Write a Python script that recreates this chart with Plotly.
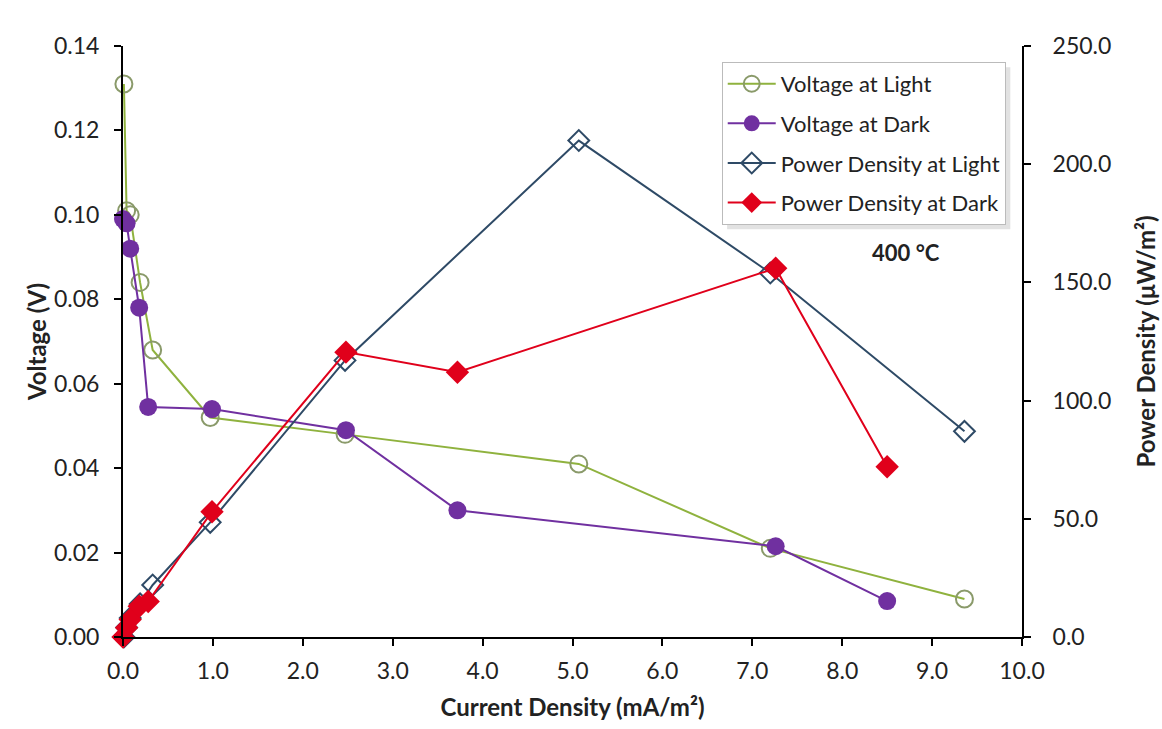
import plotly.graph_objects as go

# Data
light_current = [0.01, 0.04, 0.08, 0.19, 0.33, 0.97, 2.47, 5.07, 7.20, 9.36]
light_voltage = [0.131, 0.101, 0.100, 0.084, 0.068, 0.052, 0.048, 0.041, 0.021, 0.009]
light_power = [0.0, 4.0, 8.0, 14.0, 22.0, 48.5, 117.0, 210.0, 154.0, 87.0]

dark_current = [0.0, 0.04, 0.08, 0.18, 0.28, 0.99, 2.48, 3.72, 7.26, 8.50]
dark_voltage = [0.099, 0.098, 0.092, 0.078, 0.0545, 0.054, 0.049, 0.030, 0.0215, 0.0085]
dark_power = [0.0, 3.9, 7.4, 13.0, 15.0, 53.0, 120.5, 112.0, 156.0, 72.0]

x_ticks = [0, 1, 2, 3, 4, 5, 6, 7, 8, 9, 10]
y_ticks = [0, 0.02, 0.04, 0.06, 0.08, 0.10, 0.12, 0.14]
y2_ticks = [0, 50, 100, 150, 200, 250]

GREEN = "#8FB23E"
PURPLE = "#7030A0"
SLATE = "#2E4A66"
RED = "#E0001B"
FONT = "Lato"
TXT = "#222222"

fig = go.Figure()
fig.add_trace(go.Scatter(
    x=light_current, y=light_voltage, name="Voltage at Light", mode="lines+markers",
    legendgroup="a",
    line=dict(color=GREEN, width=2),
    marker=dict(symbol="circle-open", size=17, color="#8A9A6A", line=dict(width=2, color="#8A9A6A")),
    cliponaxis=False))
fig.add_trace(go.Scatter(
    x=dark_current, y=dark_voltage, name="Voltage at Dark", mode="lines+markers",
    legendgroup="b",
    line=dict(color=PURPLE, width=2),
    marker=dict(symbol="circle", size=18, color=PURPLE),
    cliponaxis=False))
fig.add_trace(go.Scatter(
    x=light_current, y=light_power, name="Power Density at Light", mode="lines+markers",
    legendgroup="c",
    line=dict(color=SLATE, width=2),
    marker=dict(symbol="diamond-open", size=16, color=SLATE, line=dict(width=2, color=SLATE)),
    yaxis="y2", cliponaxis=False))
fig.add_trace(go.Scatter(
    x=dark_current, y=dark_power, name="Power Density at Dark", mode="lines+markers",
    legendgroup="d",
    line=dict(color=RED, width=2),
    marker=dict(symbol="diamond", size=18, color=RED),
    yaxis="y2", cliponaxis=False))

axis_common = dict(showgrid=False, zeroline=False, showline=True, linecolor="black", linewidth=2,
                   ticks="outside", tickcolor="black", ticklen=7, tickwidth=2, automargin=False,
                   tickfont=dict(family=FONT, size=23, color=TXT))

fig.update_layout(
    width=1162, height=729,
    margin=dict(l=123, r=140, t=46, b=92),
    paper_bgcolor="white", plot_bgcolor="white",
    font=dict(family=FONT, color=TXT),
    xaxis=dict(range=[0, 10], tickvals=x_ticks, tickformat=".1f", ticklabelstandoff=5,
               title=dict(text="<b>Current Density (mA/m²)</b>", font=dict(family=FONT, size=24), standoff=17),
               **axis_common),
    yaxis=dict(range=[0, 0.14], tickvals=y_ticks, tickformat=".2f", ticklabelstandoff=10,
               title=dict(text="<b>Voltage (V)</b>", font=dict(family=FONT, size=24), standoff=1),
               **axis_common),
    yaxis2=dict(range=[0, 250], tickvals=y2_ticks, tickformat=".1f", overlaying="y", side="right",
                ticklabelstandoff=17,
                title=dict(text="<b>Power Density (μW/m²)</b>", font=dict(family=FONT, size=24), standoff=28),
                **axis_common),
    legend=dict(x=0.666, y=0.973, xanchor="left", yanchor="top",
                bgcolor="white", bordercolor="#BBBBBB", borderwidth=1,
                font=dict(family=FONT, size=22, color=TXT),
                traceorder="grouped", tracegroupgap=8, itemwidth=48),
    showlegend=True,
)

# legend shadow
fig.add_shape(type="rect", xref="paper", yref="paper",
              x0=0.672, x1=0.987, y0=0.690, y1=0.964,
              fillcolor="#E2E2E2", line=dict(width=0), layer="below")

fig.add_annotation(x=0.911, y=0.65, xref="paper", yref="paper",
                   text="<b>400 °C</b>", showarrow=False,
                   font=dict(family=FONT, size=22, color=TXT))

fig.write_html("out.html")
